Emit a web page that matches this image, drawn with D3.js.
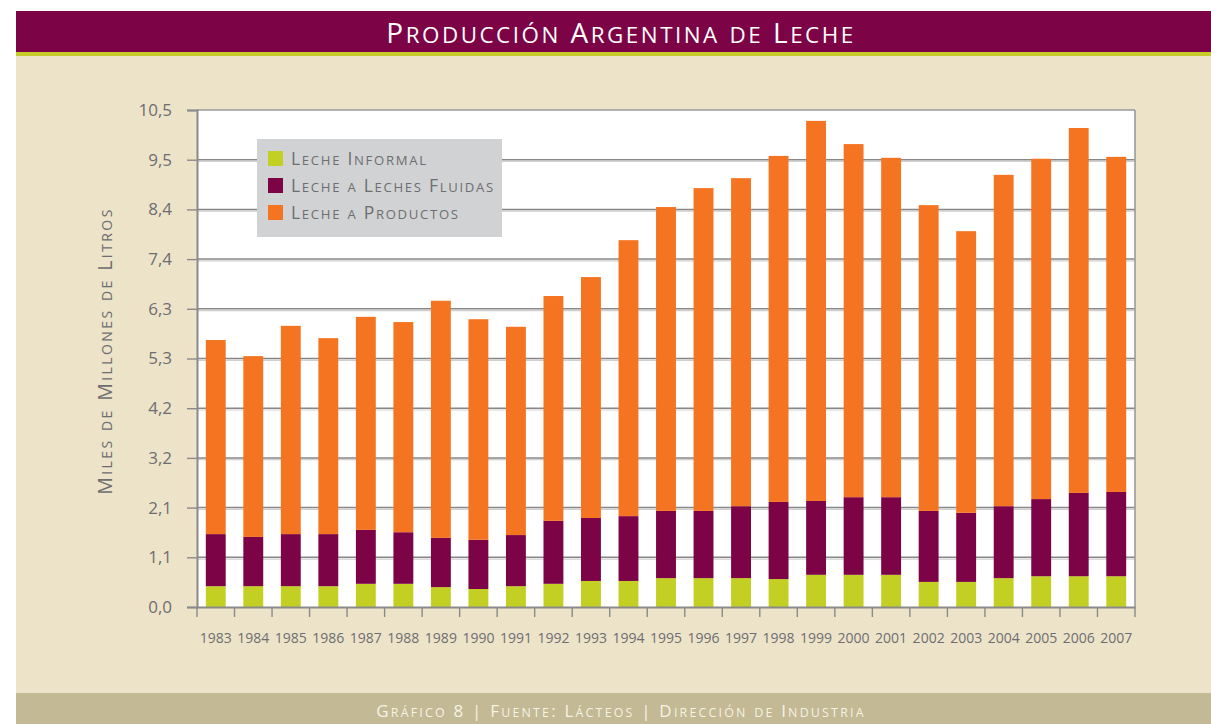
<!DOCTYPE html>
<html>
<head>
<meta charset="utf-8">
<script src="https://cdn.jsdelivr.net/npm/d3@7"></script>
<style>
  body { margin: 0; background: #fff; }
  svg text { font-family: "Open Sans", "Noto Sans", sans-serif; }
</style>
</head>
<body>
<div id="chart"></div>
<script>
// Produccion Argentina de Leche - stacked bars, miles de millones de litros

var years = ["1983","1984","1985","1986","1987","1988","1989","1990","1991","1992","1993","1994","1995",
             "1996","1997","1998","1999","2000","2001","2002","2003","2004","2005","2006","2007"];

var informal  = [0.44,0.44,0.44,0.44,0.49,0.49,0.42,0.38,0.44,0.49,0.55,0.55,0.61,
                 0.61,0.61,0.59,0.68,0.68,0.68,0.53,0.53,0.61,0.65,0.65,0.65];
var fluidas   = [1.10,1.04,1.10,1.10,1.14,1.09,1.04,1.04,1.08,1.33,1.33,1.37,1.42,
                 1.42,1.52,1.63,1.56,1.64,1.64,1.50,1.46,1.52,1.63,1.76,1.78];
var productos = [4.10,3.82,4.40,4.14,4.50,4.44,5.01,4.66,4.40,4.75,5.09,5.83,6.42,
                 6.82,6.93,7.31,8.03,7.46,7.17,6.46,5.95,7.00,7.19,7.71,7.08];

var yTicks = [0, 1.05, 2.1, 3.15, 4.2, 5.25, 6.3, 7.35, 8.4, 9.45, 10.5];
var yTickLabels = ["0,0","1,1","2,1","3,2","4,2","5,3","6,3","7,4","8,4","9,5","10,5"];

var seriesKeys = ["informal", "fluidas", "productos"];
var seriesNames = ["Leche Informal", "Leche a Leches Fluidas", "Leche a Productos"];
var seriesColors = ["#c3cf22", "#7b0346", "#f47421"];

// small caps by hand: lowercase letters become smaller capitals
function smallCaps(sel, str, size, ratio) {
  var runs = [];
  str.split("").forEach(function(ch) {
    var small = ch !== ch.toUpperCase();
    if (runs.length && runs[runs.length - 1].small === small) runs[runs.length - 1].t += ch;
    else runs.push({ t: ch, small: small });
  });
  sel.selectAll("tspan")
    .data(runs)
    .enter().append("tspan")
    .attr("font-size", function(d) { return d.small ? size * ratio : size; })
    .text(function(d) { return d.small ? d.t.toUpperCase() : d.t; });
}

(function() {
  var W = 1211, H = 724;
  var margin = { top: 110, left: 197, right: 76, bottom: 117 },
      width = W - margin.left - margin.right,
      height = H - margin.top - margin.bottom;

  var svg = d3.select("#chart").append("svg")
    .attr("width", W)
    .attr("height", H);

  // page frame
  svg.append("rect").attr("x", 16).attr("y", 11).attr("width", W - 16).attr("height", 41).attr("fill", "#7b0346");
  svg.append("rect").attr("x", 16).attr("y", 52).attr("width", W - 16).attr("height", 4).attr("fill", "#c6ca2a");
  svg.append("rect").attr("x", 16).attr("y", 56).attr("width", W - 16).attr("height", 637).attr("fill", "#ede3c9");
  svg.append("rect").attr("x", 16).attr("y", 693).attr("width", W - 16).attr("height", 31).attr("fill", "#c3b994");

  var title = svg.append("text")
    .attr("x", 621).attr("y", 43)
    .attr("text-anchor", "middle")
    .attr("fill", "#fff")
    .attr("letter-spacing", 2.5)
    .attr("font-weight", 500);
  smallCaps(title, "Producción Argentina de Leche", 28, 0.8);

  var footer = svg.append("text")
    .attr("x", 621).attr("y", 717)
    .attr("text-anchor", "middle")
    .attr("fill", "#f6f2e4")
    .attr("letter-spacing", 2.2);
  smallCaps(footer, "Gráfico 8 | Fuente: Lácteos | Dirección de Industria", 17, 0.73);

  var g = svg.append("g")
    .attr("transform", "translate(" + margin.left + "," + margin.top + ")");

  g.append("rect").attr("width", width).attr("height", height).attr("fill", "#fff");

  var table = years.map(function(y, i) {
    return { year: y, informal: informal[i], fluidas: fluidas[i], productos: productos[i] };
  });
  var stacked = d3.stack().keys(seriesKeys)(table);

  var xPositionScale = d3.scaleBand().domain(years).range([0, width])
    .paddingInner(0.47).paddingOuter(0.235);
  var yPositionScale = d3.scaleLinear().domain([0, 10.5]).range([height, 0]);

  // gridlines with light shadow
  g.selectAll(".grid-shadow")
    .data(yTicks.slice(1, -1))
    .enter().append("line")
    .attr("x1", 0).attr("x2", width)
    .attr("y1", function(d) { return yPositionScale(d) + 1.8; })
    .attr("y2", function(d) { return yPositionScale(d) + 1.8; })
    .attr("stroke", "#cfcfcf").attr("stroke-width", 1.2);
  g.selectAll(".grid")
    .data(yTicks.slice(1, -1))
    .enter().append("line")
    .attr("x1", 0).attr("x2", width)
    .attr("y1", function(d) { return yPositionScale(d); })
    .attr("y2", function(d) { return yPositionScale(d); })
    .attr("stroke", "#878787").attr("stroke-width", 1.5);

  g.selectAll(".layer")
    .data(stacked)
    .enter().append("g")
    .attr("fill", function(d, i) { return seriesColors[i]; })
    .selectAll("rect")
    .data(function(d) { return d; })
    .enter().append("rect")
    .attr("x", function(d) { return xPositionScale(d.data.year); })
    .attr("width", xPositionScale.bandwidth())
    .attr("y", function(d) { return yPositionScale(d[1]); })
    .attr("height", function(d) { return yPositionScale(d[0]) - yPositionScale(d[1]); });

  // frame of plot: top and right
  g.append("line").attr("x1", 0).attr("x2", width).attr("y1", 0).attr("y2", 0)
    .attr("stroke", "#9a9a9a").attr("stroke-width", 1.6);
  g.append("line").attr("x1", width).attr("x2", width).attr("y1", 0).attr("y2", height)
    .attr("stroke", "#9a9a9a").attr("stroke-width", 1.6);

  // y axis
  var yAxis = d3.axisLeft(yPositionScale)
    .tickValues(yTicks)
    .tickFormat(function(d, i) { return yTickLabels[i]; })
    .tickSize(10).tickPadding(15);
  var yG = g.append("g").attr("class", "axis y-axis").call(yAxis);
  yG.select(".domain").attr("stroke", "#8a8a8a").attr("stroke-width", 2);
  yG.selectAll(".tick line").attr("stroke", "#8a8a8a").attr("stroke-width", 1.4);
  yG.selectAll(".tick text").attr("fill", "#6d6e71").attr("font-size", 17)
    .attr("font-family", "Open Sans");

  // x axis
  var xAxis = d3.axisBottom(xPositionScale).tickSize(0).tickPadding(26);
  var xG = g.append("g").attr("class", "axis x-axis")
    .attr("transform", "translate(0," + height + ")")
    .call(xAxis);
  xG.select(".domain").attr("stroke", "#8a8a8a").attr("stroke-width", 2);
  xG.selectAll(".tick text").attr("fill", "#6d6e71").attr("font-size", 14)
    .attr("font-family", "Open Sans");

  var half = (xPositionScale.step() - xPositionScale.bandwidth()) / 2;
  var bounds = years.map(function(y) { return xPositionScale(y) - half; }).concat([width]);
  xG.selectAll(".bound")
    .data(bounds)
    .enter().append("line")
    .attr("x1", function(d) { return d; }).attr("x2", function(d) { return d; })
    .attr("y1", 0).attr("y2", 10)
    .attr("stroke", "#8a8a8a").attr("stroke-width", 1.4);

  // y title
  var yTitle = svg.append("text")
    .attr("transform", "translate(112,351) rotate(-90)")
    .attr("text-anchor", "middle")
    .attr("fill", "#6d6e71")
    .attr("letter-spacing", 2.4);
  smallCaps(yTitle, "Miles de Millones de Litros", 19.5, 0.72);

  // legend
  var legend = svg.append("g").attr("transform", "translate(257,139)");
  legend.append("rect").attr("width", 245).attr("height", 98).attr("fill", "#d1d2d3");
  var item = legend.selectAll(".item")
    .data(seriesNames)
    .enter().append("g")
    .attr("transform", function(d, i) { return "translate(11," + (12 + i * 27) + ")"; });
  item.append("rect").attr("width", 15).attr("height", 15)
    .attr("fill", function(d, i) { return seriesColors[i]; });
  item.each(function(d) {
    var t = d3.select(this).append("text")
      .attr("x", 23).attr("y", 14)
      .attr("fill", "#6d6e71")
      .attr("letter-spacing", 1.7);
    smallCaps(t, d, 17.5, 0.75);
  });
})();
</script>
</body>
</html>
